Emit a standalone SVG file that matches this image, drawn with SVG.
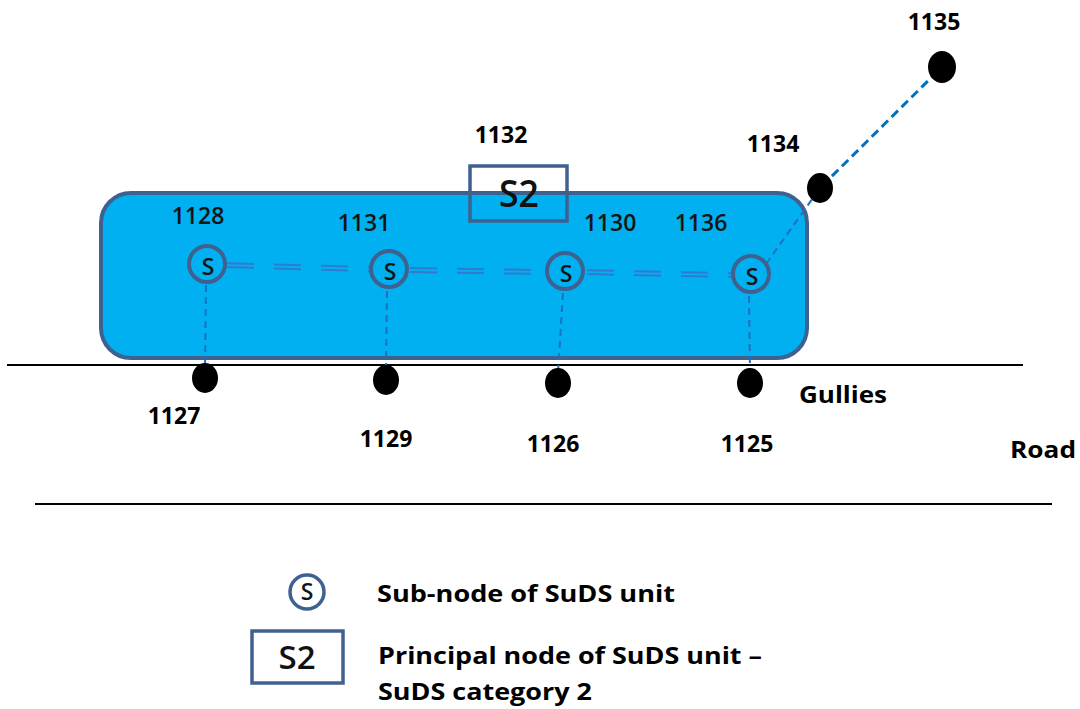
<svg xmlns="http://www.w3.org/2000/svg" width="1080" height="709" viewBox="0 0 1080 709">
  <style>
    .num { font-family: "Open Sans", "Liberation Sans", sans-serif; font-size: 23px; fill: #000; text-anchor: middle; }
    .b { font-weight: bold; }
    .in { font-weight: 600; fill: #141414; }
    .s { font-family: "Open Sans", "Liberation Sans", sans-serif; font-size: 23px; font-weight: 600; fill: #141414; text-anchor: middle; }
    .big { font-family: "Open Sans", "Liberation Sans", sans-serif; font-weight: 600; fill: #111; text-anchor: middle; }
    .leg { font-family: "Open Sans", "Liberation Sans", sans-serif; font-size: 24px; font-weight: bold; fill: #000; }
    .sub { fill: #00B0F0; stroke: #3F6190; stroke-width: 4; }
    .gully { fill: #000; }
    .dbl { stroke: #2E7BCF; stroke-width: 2; stroke-dasharray: 27 20; fill: none; }
    .vert { stroke: #1F6FBF; stroke-width: 2; stroke-dasharray: 7 5; fill: none; }
    .road { stroke: #000; stroke-width: 2; }
  </style>
  <rect width="1080" height="709" fill="#fff"/>

  <!-- SuDS unit area -->
  <rect id="suds-area" x="101" y="193" width="706" height="165" rx="30" ry="30" fill="#00B0F0" stroke="#3F6190" stroke-width="4"/>

  <!-- road lines -->
  <line class="road" x1="7" y1="365" x2="1023" y2="365"/>
  <line class="road" x1="35" y1="504" x2="1052" y2="504"/>

  <!-- principal node -->
  <g id="node-1132">
    <rect x="470" y="166" width="97" height="55" fill="none" stroke="#3F6190" stroke-width="3.5"/>
    <text class="big" x="519" y="207" font-size="38" textLength="40" lengthAdjust="spacingAndGlyphs">S2</text>
    <text class="num b" x="501" y="143">1132</text>
  </g>

  <!-- connectors -->
  <g id="connectors">
    <line class="dbl" x1="227" y1="263.2" x2="369" y2="267.2"/>
    <line class="dbl" x1="227" y1="267.1" x2="369" y2="271.1"/>
    <line class="dbl" x1="410" y1="268.1" x2="545" y2="270.1"/>
    <line class="dbl" x1="410" y1="272" x2="545" y2="274"/>
    <line class="dbl" x1="587" y1="270.2" x2="731" y2="273.2"/>
    <line class="dbl" x1="587" y1="274.1" x2="731" y2="277.1"/>
    <line class="vert" x1="206" y1="285" x2="205" y2="368"/>
    <line class="vert" x1="387" y1="291" x2="386" y2="370"/>
    <line class="vert" x1="563" y1="293" x2="558" y2="372"/>
    <line class="vert" x1="749" y1="296" x2="750" y2="372"/>
    <line class="vert" x1="766" y1="264" x2="820" y2="188"/>
    <line x1="822" y1="186" x2="942" y2="67" stroke="#0070C0" stroke-width="3" stroke-dasharray="9 5"/>
  </g>

  <!-- sub-nodes -->
  <g id="node-1128">
    <circle class="sub" cx="207" cy="264" r="18"/>
    <text class="s" x="208" y="275">S</text>
    <text class="num in" x="198" y="224">1128</text>
  </g>
  <g id="node-1131">
    <circle class="sub" cx="389" cy="269" r="18"/>
    <text class="s" x="390" y="280">S</text>
    <text class="num in" x="364" y="231">1131</text>
  </g>
  <g id="node-1130">
    <circle class="sub" cx="565" cy="271" r="18"/>
    <text class="s" x="566" y="282">S</text>
    <text class="num in" x="610" y="231">1130</text>
  </g>
  <g id="node-1136">
    <circle class="sub" cx="751" cy="274" r="18"/>
    <text class="s" x="752" y="285">S</text>
    <text class="num in" x="701" y="231">1136</text>
  </g>

  <!-- gullies / manholes -->
  <g id="node-1127">
    <ellipse class="gully" cx="205" cy="378" rx="13" ry="15"/>
    <text class="num b" x="174" y="424">1127</text>
  </g>
  <g id="node-1129">
    <ellipse class="gully" cx="386" cy="380" rx="13" ry="15"/>
    <text class="num b" x="386" y="447">1129</text>
  </g>
  <g id="node-1126">
    <ellipse class="gully" cx="558" cy="383" rx="13" ry="15"/>
    <text class="num b" x="553" y="452">1126</text>
  </g>
  <g id="node-1125">
    <ellipse class="gully" cx="750" cy="383" rx="13" ry="15"/>
    <text class="num b" x="747" y="452">1125</text>
  </g>
  <g id="node-1134">
    <ellipse class="gully" cx="820" cy="188" rx="13" ry="15"/>
    <text class="num b" x="773" y="152">1134</text>
  </g>
  <g id="node-1135">
    <ellipse class="gully" cx="942" cy="67" rx="14" ry="16"/>
    <text class="num b" x="934" y="30">1135</text>
  </g>

  <!-- labels -->
  <text class="leg" x="799" y="403" textLength="88" lengthAdjust="spacingAndGlyphs">Gullies</text>
  <text class="leg" x="1010" y="458" textLength="66" lengthAdjust="spacingAndGlyphs">Road</text>

  <!-- legend -->
  <g id="legend">
    <circle cx="307" cy="592" r="17" fill="#fff" stroke="#3F6190" stroke-width="3.5"/>
    <text class="s" x="307" y="600" font-size="20">S</text>
    <rect x="252" y="631" width="91" height="52" fill="#fff" stroke="#3F6190" stroke-width="3.5"/>
    <text class="big" x="297" y="669" font-size="33" textLength="37" lengthAdjust="spacingAndGlyphs">S2</text>
    <text class="leg" x="377" y="602" textLength="298" lengthAdjust="spacingAndGlyphs">Sub-node of SuDS unit</text>
    <text class="leg" x="378" y="664" textLength="384" lengthAdjust="spacingAndGlyphs">Principal node of SuDS unit –</text>
    <text class="leg" x="378" y="700" textLength="214" lengthAdjust="spacingAndGlyphs">SuDS category 2</text>
  </g>
</svg>
